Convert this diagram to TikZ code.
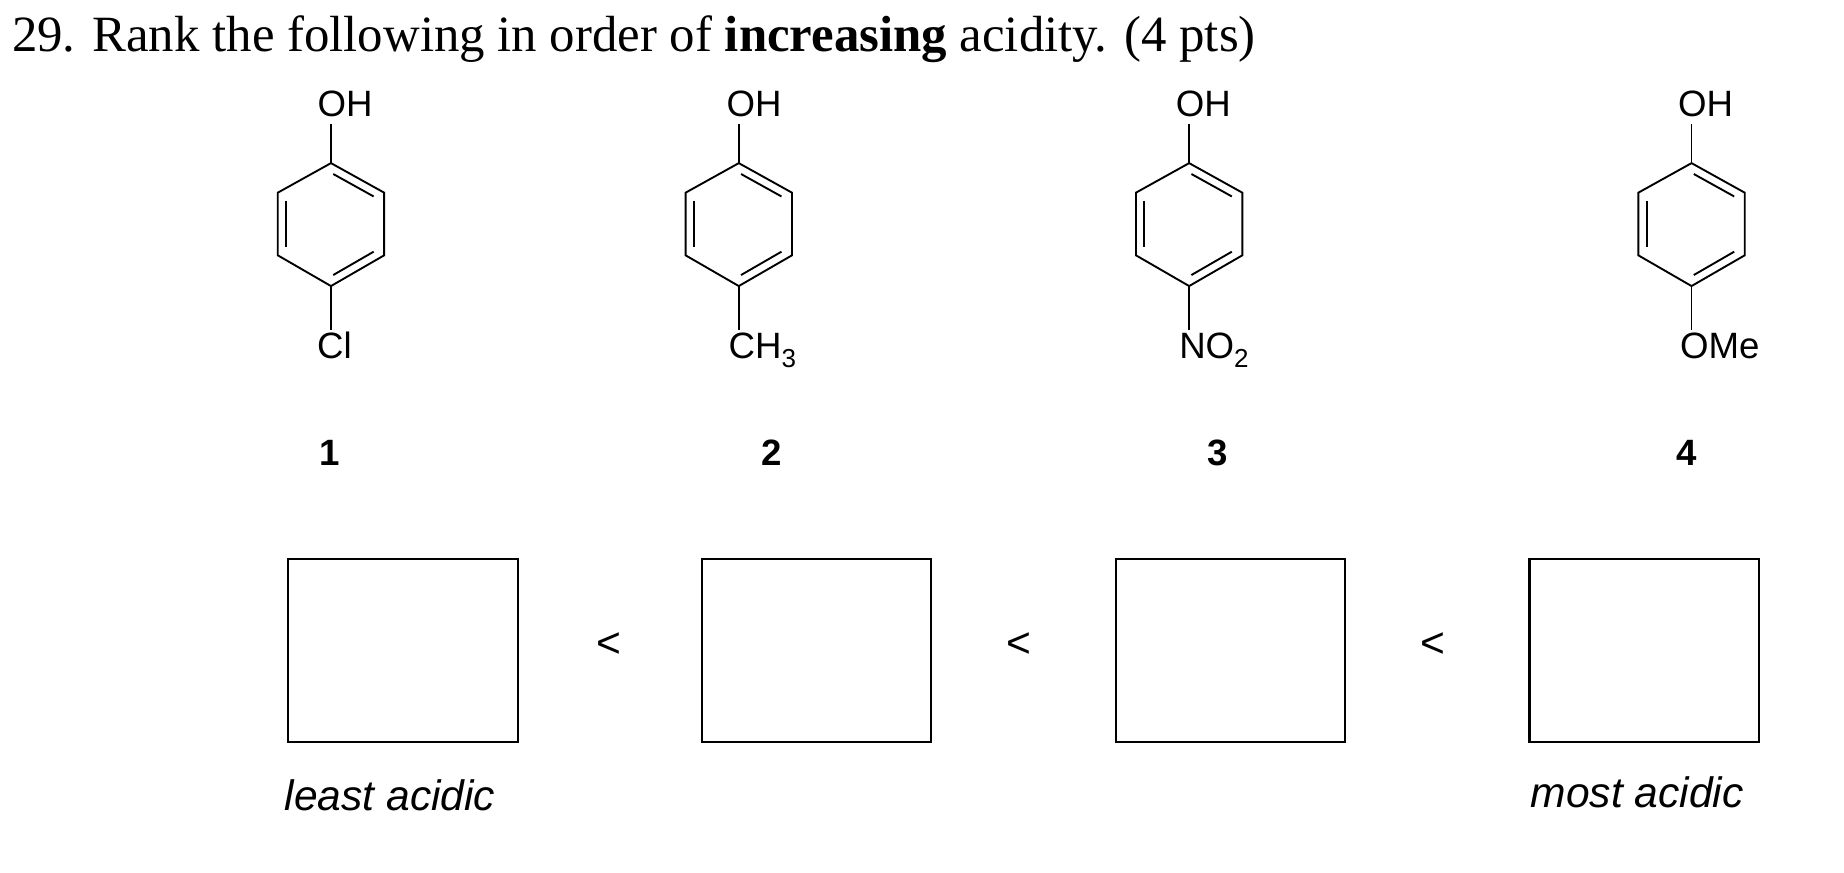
\documentclass[tikz,border=0pt]{standalone}
\usepackage{fontspec}
\usetikzlibrary{calc}
\setmainfont{Liberation Serif}
\newfontfamily\arial{Liberation Sans}
\newcommand{\mysub}[1]{\raisebox{-0.25em}{\fontsize{22}{22}\selectfont #1}}
\begin{document}
\begin{tikzpicture}[x=1pt,y=-1pt,
  lbl/.style={font=\arial\fontsize{31}{31}\selectfont,inner sep=0},
  num/.style={font=\arial\bfseries\fontsize{31}{31}\selectfont,inner sep=0},
  ans/.style={draw,line width=1.8pt},
  bond/.style={line width=1.6pt}]
\useasboundingbox (0,0) rectangle (1560,738);
\node[anchor=west,inner sep=0,font=\fontsize{43}{43}\selectfont] (title) at (10,33) {29. Rank the following in order of \textbf{increasing} acidity. (4 pts)};
\foreach \cx/\mytop/\mybt/\tx/\bx/\n/\nx [count=\i] in {280/OH/Cl/292/283/1/279, 625/OH/CH\mysub{3}/638/645/2/653, 1006/OH/NO\mysub{2}/1018/1027/3/1030, 1431/OH/OMe/1443/1455/4/1427}{
  \coordinate (t\i) at (\cx,138);
  \coordinate (ur\i) at (\cx+45,163);
  \coordinate (lr\i) at (\cx+45,216);
  \coordinate (b\i) at (\cx,242);
  \coordinate (ll\i) at (\cx-45,216);
  \coordinate (ul\i) at (\cx-45,163);
  \draw[bond] (t\i)--(ur\i)--(lr\i)--(b\i)--(ll\i)--(ul\i)--cycle;
  \draw[bond] ($(t\i)!0.12!(ur\i)+(-3.5,6.2)$) -- ($(t\i)!0.88!(ur\i)+(-3.5,6.2)$);
  \draw[bond] ($(lr\i)!0.12!(b\i)+(-3.5,-6.2)$) -- ($(lr\i)!0.88!(b\i)+(-3.5,-6.2)$);
  \draw[bond] (\cx-38,170) -- (\cx-38,209);
  \node[lbl] (oh\i) at (\tx,88) {\mytop};
  \node[lbl] (sub\i) at (\bx,297) {\strut\mybt};
  \draw[bond] (t\i) -- (\cx,105);
  \draw[bond] (b\i) -- (\cx,279);
  \node[num] (n\i) at (\nx,383) {\n};
}
\foreach \x [count=\i] in {242,592,942,1292}{
  \node[ans,minimum width=194pt,minimum height=155pt,anchor=north west] (box\i) at (\x+1,472) {};
}
\foreach \x [count=\i] in {515,862,1212}{
  \node[lbl,font=\arial\fontsize{36}{36}\selectfont] (lt\i) at (\x,546) {<};
}
\node[lbl,font=\arial\itshape\fontsize{36}{36}\selectfont] (least) at (330,673) {least acidic};
\node[lbl,font=\arial\itshape\fontsize{36}{36}\selectfont] (most) at (1385,670) {most acidic};
\end{tikzpicture}
\end{document}
